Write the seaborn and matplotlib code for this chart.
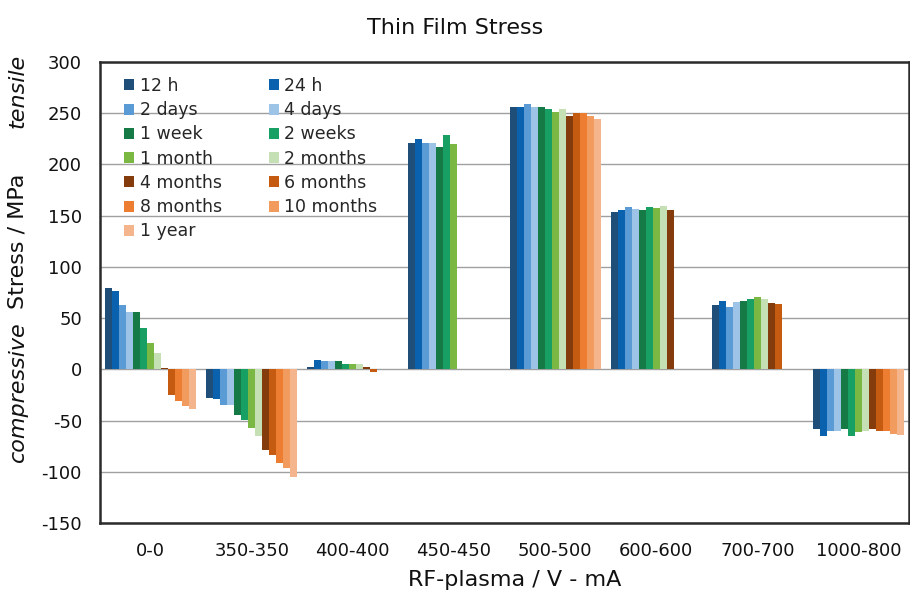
import numpy as np
import pandas as pd
import matplotlib
matplotlib.use("Agg")
import matplotlib.pyplot as plt
import seaborn as sns

categories = ["0-0", "350-350", "400-400", "450-450", "500-500", "600-600", "700-700", "1000-800"]
series = ["12 h", "24 h", "2 days", "4 days", "1 week", "2 weeks", "1 month", "2 months",
          "4 months", "6 months", "8 months", "10 months", "1 year"]
nan = np.nan
v_12h     = [79, -27.5, 2, 221, 256, 154, 63, -58]
v_24h     = [76.5, -29, 9.5, 224.5, 256.5, 156, 67, -65.5]
v_2days   = [62.5, -35, 8.5, 220.5, 259, 158, 60.5, -60]
v_4days   = [56, -35, 8.5, 220.5, 256.5, 156.5, 66, -60.5]
v_1week   = [56, -44.5, 8.5, 217.5, 256, 156, 67, -58]
v_2weeks  = [40.5, -49.5, 5.5, 228.5, 254, 158, 68.5, -65.5]
v_1month  = [26, -57, 5, 219.5, 251.5, 157, 71, -61.5]
v_2months = [15.5, -65.5, 5, nan, 254, 159, 68.5, -60.5]
v_4months = [1.5, -79, 2, nan, 247.5, 156, 65, -58]
v_6months = [-25.5, -84, -2.5, nan, 250, nan, 64, -60]
v_8months = [-30.5, -91, nan, nan, 250, nan, nan, -60.5]
v_10months = [-35.5, -96.5, nan, nan, 247.5, nan, nan, -63.5]
v_1year   = [-39, -105.5, nan, nan, 244, nan, nan, -64.5]

colors = ["#1F4E79", "#0A62AE", "#5B9BD5", "#9DC3E6", "#167A47", "#18A064", "#7BB843",
          "#C5E0B4", "#843C0C", "#C55A11", "#ED7D31", "#F29B5F", "#F5B58C"]

all_vals = [v_12h, v_24h, v_2days, v_4days, v_1week, v_2weeks, v_1month, v_2months,
            v_4months, v_6months, v_8months, v_10months, v_1year]
rows = []
for s, vals in zip(series, all_vals):
    for c, v in zip(categories, vals):
        rows.append({"cat": c, "series": s, "stress": v})
df = pd.DataFrame(rows)

sns.set_theme(style="white")
plt.rcParams["font.family"] = ["DejaVu Sans"]
plt.rcParams["axes.unicode_minus"] = False

fig = plt.figure(figsize=(9.10, 5.99), dpi=100)
ax = fig.add_axes([100/910, (599-523)/599, 809/910, 461/599])

sns.barplot(data=df, x="cat", y="stress", hue="series", order=categories, hue_order=series,
            palette=colors, saturation=1, width=0.9, linewidth=0, errorbar=None, ax=ax)

ax.set_xlim(-0.5, 7.5)
ax.set_ylim(-150, 300)
ax.set_yticks(np.arange(-150, 301, 50))
ax.yaxis.grid(True, color="#A0A0A0", linewidth=1)
ax.set_axisbelow(True)
for sp in ax.spines.values():
    sp.set_color("#2b2b2b")
    sp.set_linewidth(1.8)
ax.tick_params(axis="both", length=0, labelsize=13, colors="#111111")
ax.tick_params(axis="y", pad=13)
ax.tick_params(axis="x", pad=14)
ax.set_xlabel("")
ax.set_ylabel("")

fig.text(455/910, 1 - 28/599, "Thin Film Stress", ha="center", va="center", fontsize=16, color="#111111")
fig.text(515/910, 1 - 580/599, "RF-plasma / V - mA", ha="center", va="center", fontsize=16, color="#111111")
fig.text(18/910, 1 - 241/599, "Stress / MPa", rotation=90, ha="center", va="center", fontsize=16, color="#111111")
fig.text(18/910, 1 - 91/599, "tensile", rotation=90, ha="center", va="center", fontsize=16, style="italic", color="#111111")
fig.text(18/910, 1 - 392/599, "compressive", rotation=90, ha="center", va="center", fontsize=16, style="italic", color="#111111")

handles, labels = ax.get_legend_handles_labels()
order = list(range(0, len(handles), 2)) + list(range(1, len(handles), 2))
ax.legend([handles[i] for i in order], [labels[i] for i in order],
          loc="upper left", ncol=2, frameon=False, fontsize=12.5, handlelength=0.6, handleheight=0.6,
          handletextpad=0.3, columnspacing=2.72, labelspacing=0.36, borderaxespad=0.4,
          bbox_to_anchor=(10/809, 1.0 - 1/461))

fig.savefig("out.png", dpi=100)
